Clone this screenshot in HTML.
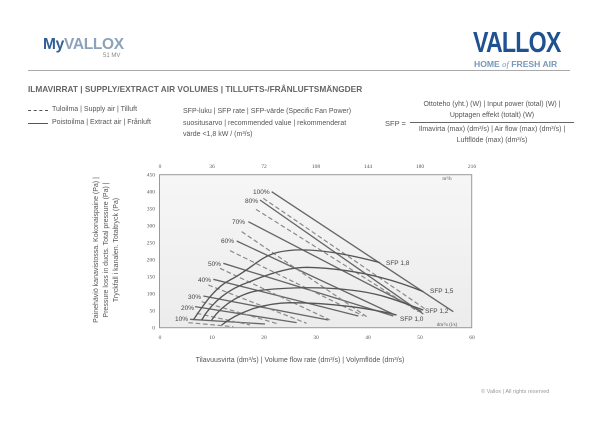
<!DOCTYPE html>
<html><head><meta charset="utf-8"><style>
body{margin:0;background:#fff;}
#c{position:relative;width:600px;height:425px;overflow:hidden;font-family:"Liberation Sans",sans-serif;color:#555;}
.a{position:absolute;white-space:nowrap;}
</style></head><body><div id="c">
<div class="a" style="left:43px;top:36px;font-size:15.5px;font-weight:bold;letter-spacing:-0.3px;"><span style="color:#2f5e95">My</span><span style="color:#8da2ba">VALLOX</span></div>
<div class="a" style="left:103px;top:53px;font-size:6px;color:#888;">51 MV</div>
<div class="a" style="left:473px;top:27px;font-size:29px;font-weight:bold;color:#1f5290;letter-spacing:-1px;transform:scaleX(0.8);transform-origin:0 0;">VALLOX</div>
<div class="a" style="left:474px;top:59px;font-size:8.6px;font-weight:bold;color:#7797ba;">HOME <span style="font-family:'Liberation Serif',serif;font-style:italic;font-weight:normal">of</span> FRESH AIR</div>
<div class="a" style="left:28px;top:70px;width:542px;height:1px;background:#aaa;"></div>
<div class="a" style="left:28px;top:84px;font-size:8.3px;font-weight:bold;color:#666;">ILMAVIRRAT | SUPPLY/EXTRACT AIR VOLUMES | TILLUFTS-/FRÅNLUFTSMÄNGDER</div>
<div class="a" style="left:28px;top:110px;width:20px;border-top:1px dashed #555;"></div>
<div class="a" style="left:28px;top:123px;width:20px;border-top:1.3px solid #555;"></div>
<div class="a" style="left:52px;top:106px;font-size:7px;">Tuloilma | Supply air | Tilluft</div>
<div class="a" style="left:52px;top:119px;font-size:7px;">Poistoilma | Extract air | Frånluft</div>
<div class="a" style="left:183px;top:106px;font-size:7px;line-height:11.5px;">SFP-luku | SFP rate | SFP-värde (Specific Fan Power)<br>suositusarvo | recommended value | rekommenderat<br>värde &lt;1,8 kW / (m³/s)</div>
<div class="a" style="left:385px;top:119px;font-size:7.5px;">SFP =</div>
<div class="a" style="left:410px;top:99px;width:164px;text-align:center;font-size:7px;line-height:11px;">Ottoteho (yht.) (W) | Input power (total) (W) |<br>Upptagen effekt (totalt) (W)</div>
<div class="a" style="left:410px;top:122px;width:164px;height:1px;background:#666;"></div>
<div class="a" style="left:410px;top:124px;width:164px;text-align:center;font-size:7px;line-height:11px;">Ilmavirta (max) (dm³/s) | Air flow (max) (dm³/s) |<br>Luftflöde (max) (dm³/s)</div>
<div class="a" style="left:107px;top:250px;transform:translate(-50%,-50%) rotate(-90deg);font-size:7px;line-height:10px;text-align:center;">Painehäviö kanavistossa. Kokonaispaine (Pa) |<br>Pressure loss in ducts. Total pressure (Pa) |<br>Tryckfall i kanalen. Totaltryck (Pa)</div>
<div class="a" style="left:0;top:357px;width:600px;text-align:center;font-size:7px;">Tilavuusvirta (dm³/s) | Volume flow rate (dm³/s) | Volymflöde (dm³/s)</div>
<div class="a" style="left:481px;top:389px;font-size:5.5px;color:#999;">© Vallox | All rights reserved</div>
<svg class="a" style="left:0;top:0" width="600" height="425">
<defs><linearGradient id="g" x1="0" y1="0" x2="0" y2="1"><stop offset="0" stop-color="#f6f6f6"/><stop offset="1" stop-color="#ececec"/></linearGradient></defs>
<rect x="159.5" y="174.7" width="312.2" height="153" fill="url(#g)" stroke="#999" stroke-width="1"/>
<g font-size="5.5" fill="#555" text-anchor="end" font-family="Liberation Serif,serif">
<text x="155" y="176.5">450</text><text x="155" y="193.5">400</text><text x="155" y="210.5">350</text><text x="155" y="227.5">300</text><text x="155" y="244.5">250</text><text x="155" y="261.5">200</text><text x="155" y="278.5">150</text><text x="155" y="295.5">100</text><text x="155" y="312.5">50</text><text x="155" y="329.5">0</text></g>
<g font-size="5.5" fill="#555" text-anchor="middle" font-family="Liberation Serif,serif">
<text x="160" y="339">0</text><text x="212" y="339">10</text><text x="264" y="339">20</text><text x="316" y="339">30</text><text x="368" y="339">40</text><text x="420" y="339">50</text><text x="472" y="339">60</text>
<text x="160" y="168">0</text><text x="212" y="168">36</text><text x="264" y="168">72</text><text x="316" y="168">108</text><text x="368" y="168">144</text><text x="420" y="168">180</text><text x="472" y="168">216</text>
<text x="447" y="180" font-size="5">m³/h</text><text x="447" y="326" font-size="5">dm³/s (l/s)</text></g>
<g transform="translate(150,160) scale(0.3333)" fill="none" stroke="#666" stroke-width="4">
<g>
<path d="M365,95 L910,455"/><path d="M330,120 L820,462"/><path d="M295,185 L815,455"/><path d="M260,243 L735,465"/><path d="M220,310 L730,468"/><path d="M190,358 L625,468"/><path d="M160,408 L535,480"/><path d="M135,440 L440,488"/><path d="M120,478 L345,492"/>
</g>
<g stroke-dasharray="14,8" stroke-width="3.5" stroke="#888">
<path d="M340,115 L830,450"/><path d="M318,148 L805,455"/><path d="M275,215 L650,470"/><path d="M240,272 L640,468"/><path d="M210,325 L540,480"/><path d="M175,375 L470,490"/><path d="M155,425 L385,492"/><path d="M140,460 L300,495"/><path d="M115,488 L250,500"/>
</g>
<g stroke="#555">
<path d="M130,480 C170,420 200,380 240,360 C300,330 330,290 380,278 C440,262 540,268 690,308"/>
<path d="M155,480 C190,420 240,385 300,365 C360,340 420,322 470,322 C580,325 700,345 820,395"/>
<path d="M185,480 C220,430 280,395 340,390 C420,382 520,380 600,390 C700,400 760,430 820,450"/>
<path d="M215,495 C260,460 330,430 420,428 C540,428 660,445 740,465"/>
</g>
</g>
<g font-size="6.5" fill="#444" font-family="Liberation Sans,sans-serif">
<text x="253" y="194">100%</text><text x="245" y="203">80%</text><text x="232" y="224">70%</text><text x="221" y="243">60%</text><text x="208" y="266">50%</text><text x="198" y="282">40%</text><text x="188" y="299">30%</text><text x="181" y="310">20%</text><text x="175" y="321">10%</text>
<text x="386" y="265">SFP 1,8</text><text x="430" y="293">SFP 1,5</text><text x="425" y="313">SFP 1,2</text><text x="400" y="321">SFP 1,0</text></g>
</svg>
</div></body></html>
